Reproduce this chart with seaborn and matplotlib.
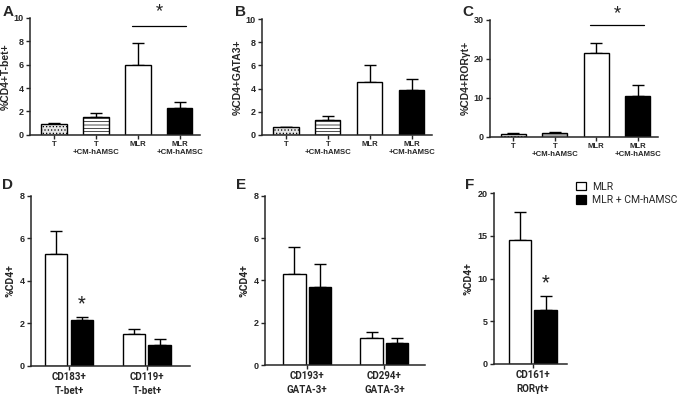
import seaborn as sns
import matplotlib.pyplot as plt
import pandas as pd
import numpy as np
from matplotlib.patches import Patch

# top row: four conditions
conds = ['T', 'T\n+CM-hAMSC', 'MLR', 'MLR\n+CM-hAMSC']
tbet_mean = [0.9, 1.55, 5.95, 2.3]
tbet_sem = [0.1, 0.3, 1.9, 0.55]
gata3_mean = [0.65, 1.3, 4.55, 3.9]
gata3_sem = [0.07, 0.3, 1.45, 0.95]
rorgt_mean = [0.7, 1.0, 21.5, 10.6]
rorgt_sem = [0.2, 0.2, 2.7, 2.6]

# bottom row: MLR vs MLR + CM-hAMSC
groups = ['MLR', 'MLR + CM-hAMSC']
th1_markers = ['CD183+\nT-bet+', 'CD119+\nT-bet+']
th1_mlr = [5.25, 1.52]
th1_mlr_sem = [1.1, 0.2]
th1_cm = [2.15, 1.0]
th1_cm_sem = [0.15, 0.25]
th2_markers = ['CD193+\nGATA-3+', 'CD294+\nGATA-3+']
th2_mlr = [4.3, 1.3]
th2_mlr_sem = [1.3, 0.25]
th2_cm = [3.7, 1.05]
th2_cm_sem = [1.1, 0.25]
th17_markers = ['CD161+\nRORγt+']
th17_mlr = [14.5]
th17_mlr_sem = [3.3]
th17_cm = [6.3]
th17_cm_sem = [1.6]

sns.set_style('ticks')
plt.rcParams['font.family'] = ['Liberation Sans', 'DejaVu Sans']
plt.rcParams['hatch.linewidth'] = 0.5
BOT_FONT = ['Roboto', 'DejaVu Sans']

fig = plt.figure(figsize=(6.85, 3.99), dpi=100)


def style_axis(ax, ymax, yticks, tick_size):
    ax.set_ylim(0, ymax)
    ax.set_yticks(yticks)
    ax.set_yticklabels([str(t) for t in yticks], fontsize=tick_size,
                       fontweight='bold')
    ax.spines['top'].set_visible(False)
    ax.spines['right'].set_visible(False)
    ax.spines['left'].set_linewidth(1.1)
    ax.spines['bottom'].set_linewidth(1.1)
    ax.tick_params(axis='both', width=1.0, length=3, pad=1.5)
    ax.set_xlabel('')


def add_errors(ax, sems_by_container):
    for cont, sems in zip(ax.containers, sems_by_container):
        for bar, s in zip(cont, sems):
            xc = bar.get_x() + bar.get_width() / 2
            h = bar.get_height()
            ax.errorbar(xc, h, yerr=[[0], [s]], fmt='none', ecolor='black',
                        elinewidth=1.0, capsize=4.5, capthick=1.0, zorder=1)


def top_panel(rect, mean, sem, ymax, yticks, ylabel, letter, sig=None):
    ax = fig.add_axes(rect)
    df = pd.DataFrame({'cond': conds, 'val': mean})
    sns.barplot(data=df, x='cond', y='val', hue='cond', order=conds,
                hue_order=conds, palette=['#e6e6e6', 'white', 'white', 'black'],
                edgecolor='black', linewidth=1.0, width=0.6, legend=False,
                zorder=2, ax=ax)
    hatches = ['.....', '-----', '', '']
    for cont, hch in zip(ax.containers, hatches):
        for bar in cont:
            bar.set_hatch(hch)
    add_errors(ax, [[s] for s in sem])
    ax.set_xlim(-0.57, 3.48)
    style_axis(ax, ymax, yticks, 6.5)
    ax.set_xticks(range(4))
    ax.set_xticklabels(conds, fontsize=5.6, fontweight='bold', linespacing=1.1)
    ax.set_ylabel(ylabel, fontsize=7.5, fontweight='bold', labelpad=2)
    if sig is not None:
        ly, sy = sig
        ax.plot([1.85, 3.15], [ly, ly], color='black', lw=0.9, clip_on=False)
        ax.text(2.5, sy, '*', ha='center', va='center', fontsize=12,
                fontfamily=BOT_FONT, clip_on=False)
    fig.text(rect[0] - 0.04, 0.97, letter, fontsize=11, fontweight='bold',
             va='center', ha='left')
    return ax


def bottom_panel(rect, markers, mlr, mlr_sem, cm, cm_sem, ymax, yticks,
                 xlim, letter, stars=()):
    ax = fig.add_axes(rect)
    df = pd.DataFrame({
        'marker': markers * 2,
        'group': [groups[0]] * len(markers) + [groups[1]] * len(markers),
        'val': mlr + cm,
    })
    sns.barplot(data=df, x='marker', y='val', hue='group', order=markers,
                hue_order=groups, palette=['white', 'black'],
                edgecolor='black', linewidth=1.0, width=0.66, gap=0.12,
                legend=False, zorder=2, ax=ax)
    add_errors(ax, [mlr_sem, cm_sem])
    ax.set_xlim(*xlim)
    style_axis(ax, ymax, yticks, 6.5)
    ax.set_xticks(range(len(markers)))
    ax.set_xticklabels(markers, fontsize=7, fontweight='bold',
                       fontfamily=BOT_FONT, linespacing=1.45)
    ax.set_ylabel('%CD4+', fontsize=7.5, fontweight='bold', labelpad=3,
                  fontfamily=BOT_FONT)
    cm_bars = ax.containers[1]
    for idx, sy in stars:
        bar = cm_bars[idx]
        ax.text(bar.get_x() + bar.get_width() / 2, sy, '*', ha='center',
                va='center', fontsize=13, fontfamily=BOT_FONT)
    fig.text(rect[0] - 0.042, 0.537, letter, fontsize=11, fontweight='bold',
             va='center', ha='left')
    return ax


top_panel([0.044, 0.662, 0.248, 0.293], tbet_mean, tbet_sem, 10,
          [0, 2, 4, 6, 8, 10], '%CD4+T-bet+', 'A', sig=(9.3, 10.6))
top_panel([0.3825, 0.662, 0.248, 0.29], gata3_mean, gata3_sem, 10,
          [0, 2, 4, 6, 8, 10], '%CD4+GATA3+', 'B')
top_panel([0.715, 0.657, 0.245, 0.293], rorgt_mean, rorgt_sem, 30,
          [0, 10, 20, 30], '%CD4+RORγt+', 'C', sig=(28.7, 31.8))

bottom_panel([0.045, 0.083, 0.232, 0.426], th1_markers, th1_mlr, th1_mlr_sem,
             th1_cm, th1_cm_sem, 8, [0, 2, 4, 6, 8], (-0.49, 1.55), 'D',
             stars=[(0, 2.95)])
bottom_panel([0.387, 0.085, 0.234, 0.424], th2_markers, th2_mlr, th2_mlr_sem,
             th2_cm, th2_cm_sem, 8, [0, 2, 4, 6, 8], (-0.545, 1.53), 'E')
axf = bottom_panel([0.721, 0.088, 0.107, 0.428], th17_markers, th17_mlr,
                   th17_mlr_sem, th17_cm, th17_cm_sem, 20, [0, 5, 10, 15, 20],
                   (-0.5, 0.44), 'F', stars=[(0, 9.5)])

handles = [Patch(facecolor='white', edgecolor='black', linewidth=0.9),
           Patch(facecolor='black', edgecolor='black', linewidth=0.9)]
fig.legend(handles, groups, loc='upper left', bbox_to_anchor=(0.835, 0.555),
           frameon=False, prop={'family': BOT_FONT, 'size': 7.5},
           handlelength=0.9, handleheight=0.9, handletextpad=0.6,
           labelspacing=0.35, borderaxespad=0)

fig.savefig('out.png', dpi=100)
